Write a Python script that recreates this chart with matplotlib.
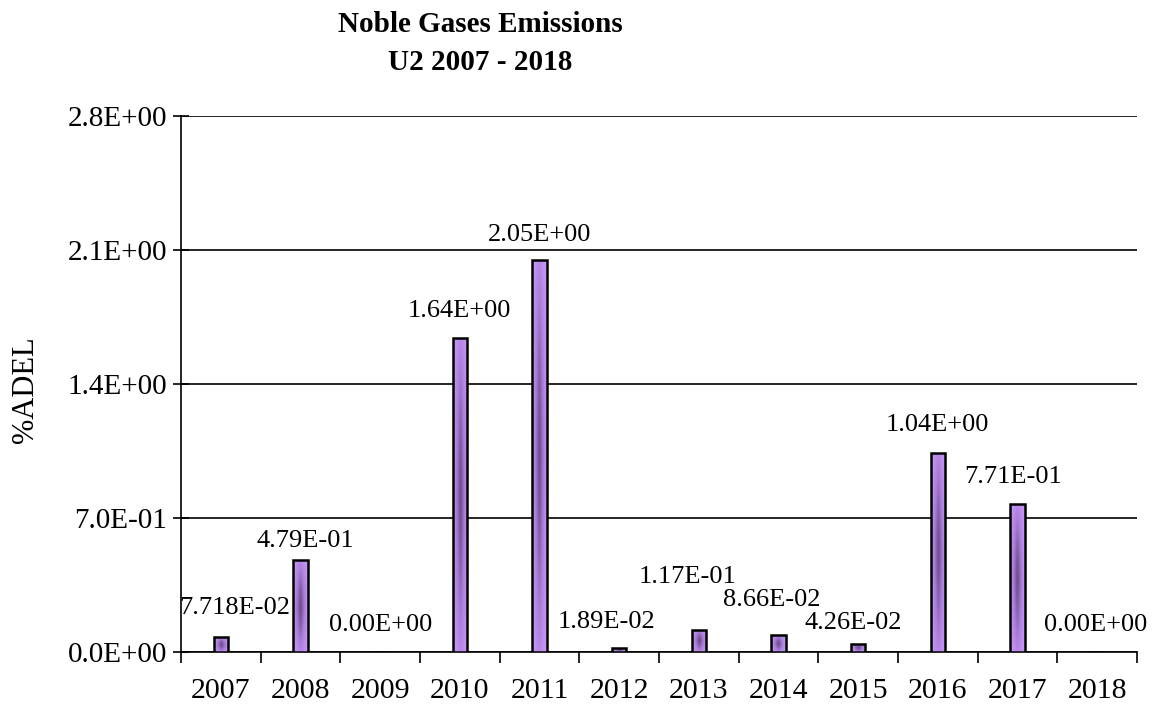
import numpy as np
import matplotlib.pyplot as plt
from matplotlib.colors import LinearSegmentedColormap

# data
years = ['2007', '2008', '2009', '2010', '2011', '2012', '2013', '2014', '2015', '2016', '2017', '2018']
values = [0.07718, 0.479, 0.0, 1.64, 2.05, 0.0189, 0.117, 0.0866, 0.0426, 1.04, 0.771, 0.0]
labels = ['7.718E-02', '4.79E-01', '0.00E+00', '1.64E+00', '2.05E+00', '1.89E-02',
          '1.17E-01', '8.66E-02', '4.26E-02', '1.04E+00', '7.71E-01', '0.00E+00']
yticks = [0.0, 0.7, 1.4, 2.1, 2.8]
ytick_labels = ['0.0E+00', '7.0E-01', '1.4E+00', '2.1E+00', '2.8E+00']

# label offsets (pixels) of label centre relative to bar top
lab_dx = [14, 5, 0, 0, 0, -13, -11, -7, -5, 0, -4, -2]
lab_dy = [29, 19, 27, 27, 25, 26, 53, 35, 21, 28, 27, 27]

plt.rcParams['font.family'] = ['Liberation Serif', 'DejaVu Serif']

fig = plt.figure(figsize=(11.57, 7.06), dpi=100)
ax = fig.add_axes([181 / 1157, 1 - 652 / 706, 956 / 1157, 536 / 706])

x = np.arange(len(years))
width = 0.18
cmap = LinearSegmentedColormap.from_list('purp', ['#CC99FF', '#A87CD6', '#6A4A8A'])

bars = ax.bar(x, values, width=width, facecolor='none', edgecolor='black', linewidth=1.8, zorder=4)
for b in bars:
    h = b.get_height()
    if h <= 0:
        continue
    u = np.linspace(-1, 1, 40)
    v = np.linspace(-1, 1, 200)
    U, V = np.meshgrid(u, v)
    d = (1 - np.abs(U)) ** 0.9 * (1 - 0.7 * np.abs(V) ** 1.5)
    im = ax.imshow(d, cmap=cmap, vmin=0, vmax=1, aspect='auto', origin='lower',
                   extent=(b.get_x(), b.get_x() + b.get_width(), 0, h), zorder=3)
    im.set_clip_path(b)

for i, (val, lab) in enumerate(zip(values, labels)):
    ax.annotate(lab, (x[i], val), xytext=(lab_dx[i] * 0.72, lab_dy[i] * 0.72),
                textcoords='offset points', ha='center', va='center', fontsize=19)

ax.set_xlim(-0.5, len(years) - 0.5)
ax.set_ylim(0, 2.8)
ax.set_yticks(yticks)
ax.set_yticklabels(ytick_labels, fontsize=21)
ax.set_xticks(x)
ax.set_xticklabels(years, fontsize=21.5)
ax.set_xticks(np.arange(len(years) + 1) - 0.5, minor=True)
ax.tick_params(axis='x', which='major', length=0, pad=19)
ax.tick_params(axis='x', which='minor', length=8, width=1.2, direction='out')
ax.tick_params(axis='y', length=12, width=1.2, direction='inout', pad=4)

ax.grid(axis='y', color='black', linewidth=1.2, zorder=1)
ax.set_axisbelow(True)
for s in ['top', 'right']:
    ax.spines[s].set_visible(False)
for s in ['left', 'bottom']:
    ax.spines[s].set_linewidth(1.2)

fig.text(25 / 1157, 1 - 390 / 706, '%ADEL', rotation=90, ha='center', va='center', fontsize=22)

fig.text(480 / 1157, 1 - 25 / 706, 'Noble Gases Emissions', ha='center', va='center',
         fontsize=21, fontweight='bold')
fig.text(480 / 1157, 1 - 62 / 706, 'U2 2007 - 2018', ha='center', va='center',
         fontsize=21, fontweight='bold')

fig.savefig('out.png', dpi=100)
